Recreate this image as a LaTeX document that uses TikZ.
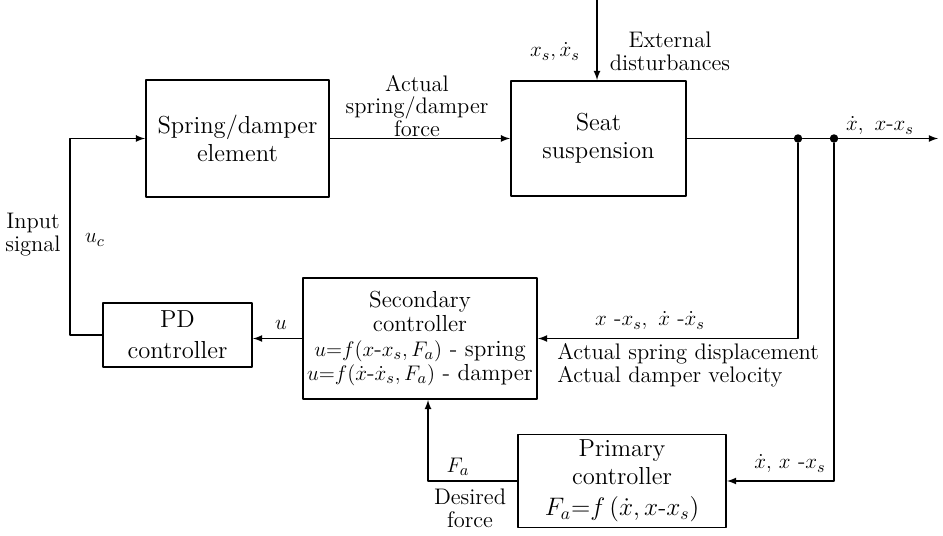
\documentclass[tikz,border=0pt]{standalone}
\begin{document}
\begin{tikzpicture}[line cap=round, line join=round,
    blk/.style={draw, line width=1.1pt, align=center, inner sep=0pt, font=\fontsize{14}{15.8}\selectfont},
    lbl/.style={inner sep=0pt, align=center, font=\fontsize{12.8}{13}\selectfont},
    wire/.style={line width=0.8pt},
    arr/.style={line width=0.8pt, -{latex}},
    dot/.style={circle, fill, inner sep=1.7pt}]
  \useasboundingbox (0,0) rectangle (18.86,10.72);
  % blocks
  \node[blk, minimum width=3.66cm, minimum height=2.34cm] (spr) at (4.75,7.95) {Spring/damper\\element};
  \node[blk, minimum width=3.5cm, minimum height=2.3cm] (seat) at (11.97,7.95) {Seat\\suspension};
  \node[blk, minimum width=2.98cm, minimum height=1.28cm] (pd) at (3.55,4.02) {PD\\[2pt]controller};
  \node[blk, minimum width=4.68cm, minimum height=2.42cm, font=\fontsize{13.2}{13.7}\selectfont] (sec) at (8.4,3.95)
    {Secondary\\controller\\$u{=}f(x$-$x_s,F_a)$ - spring\\$u{=}f(\dot{x}$-$\dot{x}_s,F_a)$ - damper};
  \node[blk, minimum width=4.16cm, minimum height=1.86cm] (pri) at (12.44,1.1)
    {Primary\\controller\\[2pt]$F_a{=}f\,(\dot{x},x$-$x_s)$};
  % branch points and free ends
  \node[dot] (d1) at (15.96,7.95) {};
  \node[dot] (d2) at (16.68,7.95) {};
  \coordinate (out) at (18.76,7.95);
  \coordinate (dist) at (11.94,10.72);
  \coordinate (lft) at (1.4,0);
  \coordinate (fa) at (8.56,0);
  % connectors
  \draw[arr] (spr.east) -- (seat.west);
  \draw[arr] (dist) -- (dist |- seat.north);
  \draw[wire] (seat.east) -- (d1) -- (d2);
  \draw[arr] (d2) -- (out);
  \draw[arr] (d1) |- (sec.east);
  \draw[arr] (d2) |- (pri.east);
  \draw[arr] (pri.west) -| (fa |- sec.south);
  \draw[arr] (sec.west) -- (sec.west -| pd.east);
  \draw[arr] (pd.west) -| (lft |- spr.west) -- (spr.west);
  % labels
  \node[lbl] (lforce) at (8.34,8.6) {Actual\\spring/damper\\force};
  \node[lbl] (ldist) at (13.4,9.7) {External\\disturbances};
  \node[lbl] (lxs) at (11.1,9.68) {$x_s,\dot{x}_s$};
  \node[lbl] (lout) at (17.6,8.2) {$\dot{x},\ x$-$x_s$};
  \node[lbl] (linput) at (0.66,6.02) {Input\\signal};
  \node[lbl] (luc) at (1.9,5.92) {$u_c$};
  \node[lbl] (lu) at (5.62,4.22) {$u$};
  \node[lbl] (lfb) at (13.0,4.3) {$x$ -$x_s,\ \dot{x}$ -$\dot{x}_s$};
  \node[lbl, anchor=west, align=left] (lact) at (11.14,3.42) {Actual spring displacement\\Actual damper velocity};
  \node[lbl] (lfa) at (9.16,1.38) {$F_a$};
  \node[lbl] (ldes) at (9.4,0.56) {Desired\\force};
  \node[lbl] (lpri) at (15.8,1.44) {$\dot{x},\,x$ -$x_s$};
\end{tikzpicture}
\end{document}
